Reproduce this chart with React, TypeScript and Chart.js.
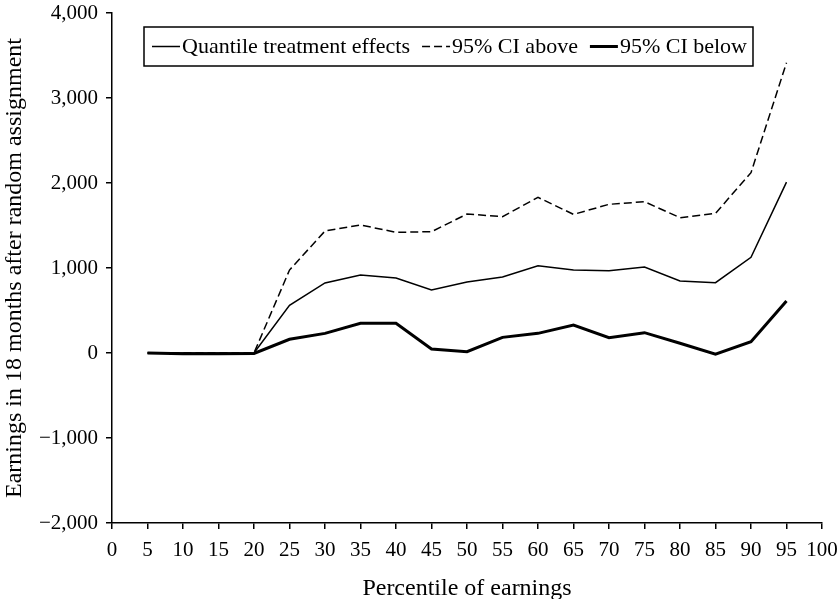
import React, { useEffect, useRef } from "react";
import { Chart, registerables } from "chart.js";

Chart.register(...registerables);

const percentiles = [5, 10, 15, 20, 25, 30, 35, 40, 45, 50, 55, 60, 65, 70, 75, 80, 85, 90, 95];
const qte = [0, 0, 0, 0, 560, 824, 918, 882, 741, 835, 894, 1027, 976, 968, 1012, 847, 827, 1125, 2010];
const ciAbove = [0, 0, 0, 0, 976, 1435, 1506, 1420, 1427, 1635, 1604, 1831, 1631, 1749, 1780, 1592, 1643, 2121, 3415];
const ciBelow = [0, -8, -8, -5, 161, 231, 349, 349, 47, 15, 184, 231, 329, 180, 239, 114, -15, 133, 612];

const seriesLabels = ["Quantile treatment effects", "95% CI above", "95% CI below"];
const xTitle = "Percentile of earnings";
const yTitle = "Earnings in 18 months after random assignment";

const FONT = "'Liberation Serif', 'Times New Roman', serif";

function fmt(v: number): string {
  const s = Math.abs(v).toLocaleString("en-US");
  return v < 0 ? "\u2212" + s : s;
}

const legendPlugin = {
  id: "insideLegend",
  afterDraw(chart: any) {
    const { ctx, chartArea } = chart;
    const boxL = chartArea.left + 32;
    const boxT = chartArea.top + 14;
    const boxH = 39;
    const sample = 28;
    const gapText = 2;
    const gapItem = 12;
    const padL = 8;
    ctx.save();
    ctx.font = `22px ${FONT}`;
    ctx.textBaseline = "middle";
    ctx.fillStyle = "#000";
    const widths = chart.data.datasets.map((d: any) => ctx.measureText(d.label).width);
    let total = padL;
    widths.forEach((w: number, i: number) => {
      total += sample + gapText + w + (i < widths.length - 1 ? gapItem : 0);
    });
    total += 6;
    ctx.lineWidth = 1.5;
    ctx.strokeStyle = "#000";
    ctx.strokeRect(boxL, boxT, total, boxH);
    let x = boxL + padL;
    const cy = boxT + boxH / 2;
    chart.data.datasets.forEach((d: any, i: number) => {
      ctx.beginPath();
      ctx.lineWidth = d.borderWidth;
      ctx.setLineDash(d.borderDash || []);
      ctx.moveTo(x, cy);
      ctx.lineTo(x + sample, cy);
      ctx.stroke();
      ctx.setLineDash([]);
      x += sample + gapText;
      ctx.fillText(d.label, x, cy + 1);
      x += widths[i] + gapItem;
    });
    ctx.restore();
  },
};

export default function App() {
  const ref = useRef<HTMLCanvasElement | null>(null);
  useEffect(() => {
    if (!ref.current) return;
    const mk = (arr: number[]) => percentiles.map((p, i) => ({ x: p, y: arr[i] }));
    const chart = new Chart(ref.current, {
      type: "line",
      data: {
        datasets: [
          { label: seriesLabels[0], data: mk(qte), borderColor: "#000", borderWidth: 1.5, pointRadius: 0, tension: 0, fill: false },
          { label: seriesLabels[1], data: mk(ciAbove), borderColor: "#000", borderWidth: 1.5, borderDash: [8, 4], pointRadius: 0, tension: 0, fill: false },
          { label: seriesLabels[2], data: mk(ciBelow), borderColor: "#000", borderWidth: 3, pointRadius: 0, tension: 0, fill: false },
        ],
      },
      options: {
        animation: false,
        responsive: true,
        maintainAspectRatio: false,
        layout: { padding: { top: 13, right: 17, left: 0, bottom: 0 } },
        plugins: { legend: { display: false }, tooltip: { enabled: false } },
        scales: {
          x: {
            type: "linear",
            min: 0,
            max: 100,
            afterFit: (s: any) => { s.height = 76; s.paddingLeft = 0; s.paddingRight = 0; },
            ticks: { stepSize: 5, color: "#000", font: { family: FONT, size: 21 }, padding: 9, maxRotation: 0, autoSkip: false },
            grid: { drawOnChartArea: false, tickLength: 6, color: "#000", lineWidth: 1.5 },
            border: { color: "#000", width: 1.5 },
            title: { display: true, text: xTitle, color: "#000", font: { family: FONT, size: 24, lineHeight: 1 }, padding: { top: 0, bottom: -2 } },
          },
          y: {
            min: -2000,
            max: 4000,
            afterFit: (s: any) => { s.width = 112; s.paddingTop = 0; s.paddingBottom = 0; },
            ticks: { stepSize: 1000, color: "#000", font: { family: FONT, size: 21 }, padding: 8, callback: (v: any) => fmt(Number(v)) },
            grid: { drawOnChartArea: false, tickLength: 6, color: "#000", lineWidth: 1.5 },
            border: { color: "#000", width: 1.5 },
            title: { display: true, text: yTitle, color: "#000", font: { family: FONT, size: 24, lineHeight: 1 }, padding: { top: 3, bottom: 0 } },
          },
        },
      },
      plugins: [legendPlugin],
    });
    return () => chart.destroy();
  }, []);
  return (
    <div style={{ position: "fixed", left: 0, top: 0, width: 839, height: 599, background: "#fff" }}>
      <canvas ref={ref} />
    </div>
  );
}
